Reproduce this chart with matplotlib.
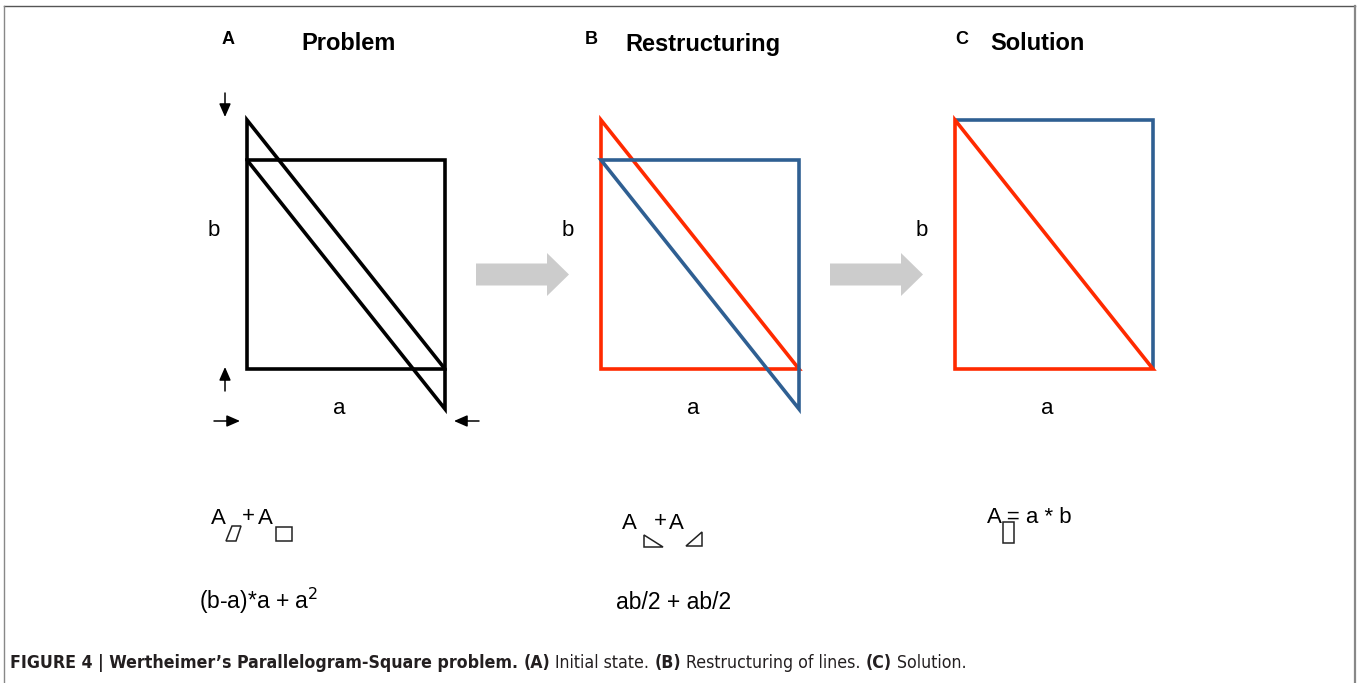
import matplotlib
matplotlib.use('Agg')
import matplotlib.pyplot as plt
from matplotlib.patches import FancyArrow, Polygon
from matplotlib import font_manager

# Panel data (pixel units of the 1358x683 canvas)
panel_letters = ['A', 'B', 'C']
panel_letter_x = [228, 591, 962]
panel_titles = ['Problem', 'Restructuring', 'Solution']
panel_title_x = [349, 703, 1037]
panel_left = [247, 601, 955]          # left edge of each figure
side_a = 198                          # width of the square / rectangle
top_y = 120                           # top of the parallelogram / rectangle
bottom_y = 369                        # bottom of the square
shift = 40                            # parallelogram offset
formula_terms = ['(b-a)*a + a$^2$', 'ab/2 + ab/2']
formula_x = [259, 674]

BLACK = '#000000'
RED = '#ff2a00'
BLUE = '#2f5f92'
GREY_ARROW = '#cccccc'

fig = plt.figure(figsize=(13.58, 6.83), dpi=100)
ax = fig.add_axes([0, 0, 1, 1])
ax.set_xlim(0, 1358)
ax.set_ylim(683, 0)
ax.axis('off')

FONT = ['Liberation Sans', 'DejaVu Sans']
names = {f.name for f in font_manager.fontManager.ttflist}
if 'Liberation Sans Narrow' in names:
    CAP_FONT, CAP_STRETCH = ['Liberation Sans Narrow'], 'normal'
else:
    CAP_FONT, CAP_STRETCH = ['DejaVu Sans'], 'condensed'

lw = 2.6

def poly(pts, color, closed=True):
    ax.add_patch(Polygon(pts, closed=closed, fill=False, edgecolor=color,
                         linewidth=lw, joinstyle='miter'))

# --- frame around the figure
ax.plot([4, 1355], [6, 6], color='#555555', lw=1.0)
ax.plot([1355, 1355], [6, 683], color='#888888', lw=1.6)
ax.plot([4, 4], [6, 683], color='#888888', lw=1.0)

# --- Panel A
x0 = panel_left[0]
poly([(x0, top_y + shift), (x0 + side_a, top_y + shift),
      (x0 + side_a, bottom_y), (x0, bottom_y)], BLACK)
poly([(x0, top_y), (x0, top_y + shift), (x0 + side_a, bottom_y + shift),
      (x0 + side_a, bottom_y)], BLACK)

small = dict(arrowstyle='-|>,head_length=0.8,head_width=0.35', color='k',
             lw=1.1, mutation_scale=10, shrinkA=0, shrinkB=0)
ax.annotate('', xy=(225, 117), xytext=(225, 93), arrowprops=small)
ax.annotate('', xy=(225, 367), xytext=(225, 391), arrowprops=small)
ax.annotate('', xy=(240, 421), xytext=(214, 421), arrowprops=small)
ax.annotate('', xy=(454, 421), xytext=(479, 421), arrowprops=small)

# --- Panel B
x0 = panel_left[1]
poly([(x0, top_y), (x0, bottom_y), (x0 + side_a, bottom_y)], RED)
poly([(x0, top_y + shift), (x0 + side_a, top_y + shift),
      (x0 + side_a, bottom_y + shift)], BLUE)

# --- Panel C
x0 = panel_left[2]
poly([(x0, top_y), (x0 + side_a, top_y), (x0 + side_a, bottom_y)], BLUE,
     closed=False)
poly([(x0, top_y), (x0, bottom_y), (x0 + side_a, bottom_y)], RED)

# --- grey transition arrows
for xs in [476, 830]:
    ax.add_patch(FancyArrow(xs, 274.5, 93, 0, width=22, head_width=43,
                            head_length=22, length_includes_head=True,
                            color=GREY_ARROW, lw=0))

# --- titles, side labels
for i, x0 in enumerate(panel_left):
    ax.text(panel_letter_x[i], 40, panel_letters[i], fontsize=13,
            fontweight='bold', family=FONT, ha='center', va='center')
    ax.text(panel_title_x[i], 44, panel_titles[i], fontsize=17,
            fontweight='bold', family=FONT, ha='center', va='center')
    ax.text(x0 - 33, 231, 'b', fontsize=16, family=FONT, ha='center', va='center')
    ax.text(x0 + 92, 409, 'a', fontsize=16, family=FONT, ha='center', va='center')

for term, xf in zip(formula_terms, formula_x):
    ax.text(xf, 609, term, fontsize=16.5, family=FONT, ha='center', va='baseline')

fkw = dict(fontsize=16, family=FONT, va='baseline')
sub = dict(fill=False, edgecolor='#222222', linewidth=1.1)
# panel A: A_par + A_sq
ax.text(211, 524, 'A', **fkw)
ax.text(242, 522, '+', **fkw)
ax.text(258, 524, 'A', **fkw)
ax.add_patch(Polygon([(232, 526), (241, 526), (236, 541), (226, 541)], **sub))
ax.add_patch(Polygon([(276, 527), (292, 527), (292, 541), (276, 541)], **sub))
# panel B: A_tri + A_tri
ax.text(622, 529, 'A', **fkw)
ax.text(654, 527, '+', **fkw)
ax.text(669, 529, 'A', **fkw)
ax.add_patch(Polygon([(644, 535), (644, 547), (663, 547)], **sub))
ax.add_patch(Polygon([(686, 546), (702, 532), (702, 546)], **sub))
# panel C: A_rect = a * b
ax.text(987, 523, 'A = a * b', **fkw)
ax.add_patch(Polygon([(1003, 522), (1014, 522), (1014, 543), (1003, 543)], **sub))

# --- caption with mixed weights, sized to span the same width as the original
cap_parts = [("FIGURE 4 | Wertheimer\u2019s Parallelogram-Square problem. ", 'bold'),
             ("(A)", 'bold'), (" Initial state. ", 'normal'),
             ("(B)", 'bold'), (" Restructuring of lines. ", 'normal'),
             ("(C)", 'bold'), (" Solution.", 'normal')]
cap_start, cap_end = 10, 962


def draw_caption(size):
    fig.canvas.draw()
    renderer = fig.canvas.get_renderer()
    xc = cap_start
    items = []
    for txt, w in cap_parts:
        t = ax.text(xc, 663, txt, fontsize=size, fontweight=w, family=CAP_FONT,
                    fontstretch=CAP_STRETCH, color='#231f20', ha='left',
                    va='center')
        xc += t.get_window_extent(renderer=renderer).width
        items.append(t)
    return items, xc


items, xe = draw_caption(11)
for t in items:
    t.remove()
draw_caption(11 * (cap_end - cap_start) / (xe - cap_start))

fig.savefig('out.png', dpi=100)
